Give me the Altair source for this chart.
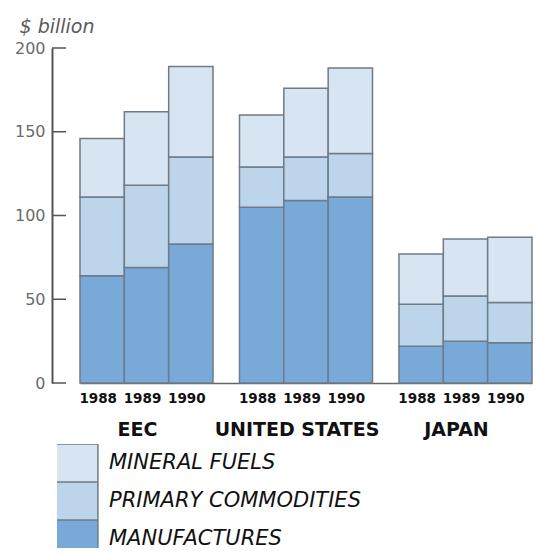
import altair as alt
import pandas as pd

countries = ["EEC", "UNITED STATES", "JAPAN"]
years = ["1988", "1989", "1990"]
categories = ["MINERAL FUELS", "PRIMARY COMMODITIES", "MANUFACTURES"]
manufactures = [64, 69, 83, 105, 109, 111, 22, 25, 24]
primary = [47, 49, 52, 24, 26, 26, 25, 27, 24]
fuels = [35, 44, 54, 31, 41, 51, 30, 34, 39]
y_ticks = [0, 50, 100, 150, 200]
colors = ["#d6e5f1", "#bcd5eb", "#78a9d9"]

rows = []
i = 0
for c in countries:
    for y in years:
        rows.append({"country": c, "year": y, "cat": "MANUFACTURES", "ord": 0, "v": manufactures[i]})
        rows.append({"country": c, "year": y, "cat": "PRIMARY COMMODITIES", "ord": 1, "v": primary[i]})
        rows.append({"country": c, "year": y, "cat": "MINERAL FUELS", "ord": 2, "v": fuels[i]})
        i += 1
df = pd.DataFrame(rows)
labels_df = pd.DataFrame([{"country": c, "year": y} for c in countries for y in years])
ticks_df = pd.DataFrame({"t": y_ticks})

H = 335
W = 480

xscale = alt.Scale(domain=countries, range=[28, 480], paddingInner=0.166, paddingOuter=0)
xoff = alt.Scale(domain=years, paddingInner=0, paddingOuter=0)

x_axis = alt.Axis(title=None, ticks=False, grid=False, labelAngle=0, labelPadding=37,
                  labelFont="DejaVu Sans", labelFontSize=19, labelFontWeight="bold",
                  labelColor="#111", labelOffset=-9,
                  domainColor="#666", domainWidth=1.5)
y_axis = alt.Axis(values=y_ticks, ticks=False, grid=False, labelPadding=7,
                  labelFont="DejaVu Sans", labelFontSize=16, labelColor="#6a6a6a",
                  domainColor="#555", domainWidth=2,
                  title="$ billion", titleAngle=0, titleAlign="left",
                  titleBaseline="top", titleX=-33, titleY=-31,
                  titleFont="DejaVu Sans", titleFontSize=19, titleFontStyle="italic",
                  titleFontWeight="normal", titleColor="#5a5a5a")
yscale = alt.Scale(domain=[0, 200], nice=False)

bars = alt.Chart(df).mark_bar(stroke="#6f7b86", strokeWidth=1.5).encode(
    x=alt.X("country:N", scale=xscale, sort=countries, axis=x_axis),
    xOffset=alt.XOffset("year:N", scale=xoff, sort=years),
    y=alt.Y("v:Q", stack="zero", scale=yscale, axis=y_axis),
    color=alt.Color("cat:N", scale=alt.Scale(domain=categories, range=colors),
                    legend=alt.Legend(title=None, orient="none", legendX=5, legendY=396,
                                      symbolType="M-1.1,-1H1.1V1H-1.1Z", symbolSize=1444,
                                      symbolStrokeColor="#6f7b86", symbolStrokeWidth=1.5,
                                      symbolOpacity=1, rowPadding=0, padding=0,
                                      clipHeight=38,
                                      labelFont="DejaVu Sans", labelFontSize=21,
                                      labelFontStyle="italic", labelColor="#111",
                                      labelLimit=0, labelOffset=12)),
    order=alt.Order("ord:Q", sort="ascending"),
)

year_text = alt.Chart(labels_df).mark_text(
    font="DejaVu Sans", fontSize=13.5, fontWeight="bold", color="#111",
    baseline="middle", dx=-4
).encode(
    x=alt.X("country:N", scale=xscale, sort=countries, axis=x_axis),
    xOffset=alt.XOffset("year:N", scale=xoff, sort=years),
    y=alt.value(H + 16),
    text="year:N",
)

ticks = alt.Chart(ticks_df).mark_rule(color="#555", strokeWidth=1.5).encode(
    x=alt.value(0), x2=alt.value(14), y=alt.Y("t:Q", scale=yscale, axis=y_axis)
)

chart = alt.layer(bars, year_text, ticks).properties(
    width=W, height=H,
    background="white",
    autosize=alt.AutoSizeParams(type="none"),
    padding={"left": 44, "top": 40, "right": 2, "bottom": 165},
).configure_view(strokeWidth=0).configure_axis(grid=False)

chart.save("out.html", embed_options={"renderer": "svg", "actions": False})
